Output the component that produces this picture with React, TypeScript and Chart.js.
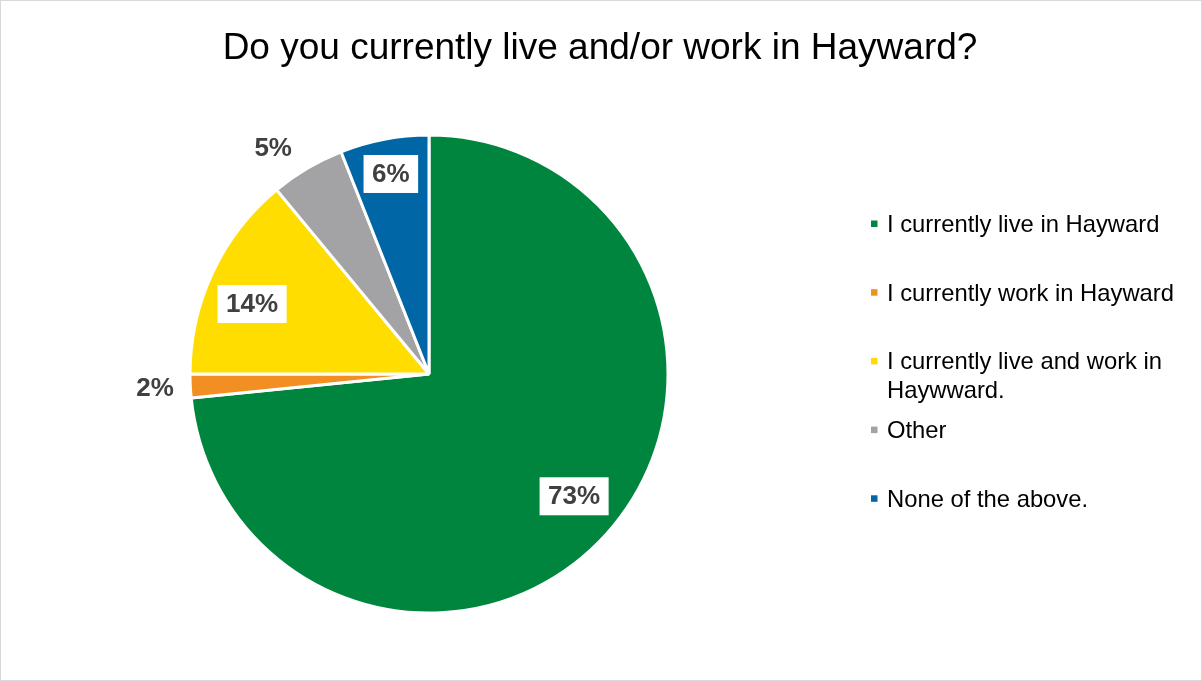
import React, { useEffect, useRef } from 'react';
import { Chart, registerables } from 'chart.js';
Chart.register(...registerables);

const TITLE = 'Do you currently live and/or work in Hayward?';
const categories = [
  'I currently live in Hayward',
  'I currently work in Hayward',
  'I currently live and work in Haywward.',
  'Other',
  'None of the above.',
];
const values = [73.4, 1.6, 14.0, 5.0, 6.0];
const colors = ['#00853E', '#F18F22', '#FFDD00', '#A3A3A5', '#0066A6'];

// label styling (radial factor, angular nudge in degrees, boxed)
const labelRadius = [0.794, 1.148, 0.796, 1.148, 0.852];
const labelNudge = [-2, 0, -3.6, -4, 0];
const labelBoxed = [true, false, true, false, true];

const FONT = '"Liberation Sans", Arial, sans-serif';

function wrap(ctx: CanvasRenderingContext2D, text: string, maxW: number): string[] {
  const words = text.split(' ');
  const lines: string[] = [];
  let cur = '';
  for (const w of words) {
    const t = cur ? cur + ' ' + w : w;
    if (ctx.measureText(t).width > maxW && cur) {
      lines.push(cur);
      cur = w;
    } else cur = t;
  }
  if (cur) lines.push(cur);
  return lines;
}

const decor = {
  id: 'decor',
  afterDraw(chart: any) {
    const ctx: CanvasRenderingContext2D = chart.ctx;
    const W = chart.width;
    const H = chart.height;
    ctx.save();
    // border
    ctx.strokeStyle = '#D9D9D9';
    ctx.lineWidth = 1;
    ctx.strokeRect(0.5, 0.5, W - 1, H - 1);
    // title
    ctx.fillStyle = '#000000';
    ctx.font = `37px ${FONT}`;
    ctx.textAlign = 'center';
    ctx.textBaseline = 'alphabetic';
    ctx.fillText(TITLE, 600, 59);

    // data labels
    const meta = chart.getDatasetMeta(0);
    const data = chart.data.datasets[0].data as number[];
    const total = data.reduce((a, b) => a + b, 0);
    ctx.font = `bold 26px ${FONT}`;
    meta.data.forEach((arc: any, i: number) => {
      const p = arc.getProps(['startAngle', 'endAngle', 'outerRadius', 'x', 'y'], true);
      const mid = (p.startAngle + p.endAngle) / 2 + (labelNudge[i] * Math.PI) / 180;
      const r = p.outerRadius * labelRadius[i];
      const x = p.x + Math.cos(mid) * r;
      const y = p.y + Math.sin(mid) * r;
      const txt = Math.round((data[i] / total) * 100) + '%';
      const tw = ctx.measureText(txt).width;
      if (labelBoxed[i]) {
        ctx.fillStyle = '#FFFFFF';
        ctx.fillRect(x - tw / 2 - 8.5, y - 19, tw + 17, 38);
      }
      ctx.fillStyle = '#404040';
      ctx.textAlign = 'center';
      ctx.textBaseline = 'middle';
      ctx.fillText(txt, x, y + 1);
    });

    // legend
    const labels = chart.data.labels as string[];
    const bg = chart.data.datasets[0].backgroundColor as string[];
    ctx.font = `23.8px ${FONT}`;
    ctx.textAlign = 'left';
    ctx.textBaseline = 'alphabetic';
    labels.forEach((lab, i) => {
      const base = 232 + i * 68.7;
      ctx.fillStyle = bg[i];
      ctx.fillRect(871, base - 11.5, 6.5, 6.5);
      ctx.fillStyle = '#000000';
      const lines = wrap(ctx, lab, 300);
      lines.forEach((ln, j) => ctx.fillText(ln, 887, base + j * 28.5));
    });
    ctx.restore();
  },
};

export default function App() {
  const ref = useRef<HTMLCanvasElement | null>(null);
  useEffect(() => {
    if (!ref.current) return;
    const chart = new Chart(ref.current, {
      type: 'pie',
      data: {
        labels: categories,
        datasets: [
          {
            data: values,
            backgroundColor: colors,
            borderColor: '#FFFFFF',
            borderWidth: 3,
          },
        ],
      },
      options: {
        responsive: false,
        animation: false,
        radius: 239,
        layout: { padding: { left: 191, top: 136, right: 535, bottom: 69 } },
        plugins: {
          legend: { display: false },
          title: { display: false },
          tooltip: { enabled: false },
        },
      } as any,
      plugins: [decor],
    });
    return () => chart.destroy();
  }, []);
  return (
    <div style={{ position: 'fixed', left: 0, top: 0, width: 1202, height: 681, background: '#FFFFFF' }}>
      <canvas ref={ref} width={1202} height={681} style={{ display: 'block' }} />
    </div>
  );
}
